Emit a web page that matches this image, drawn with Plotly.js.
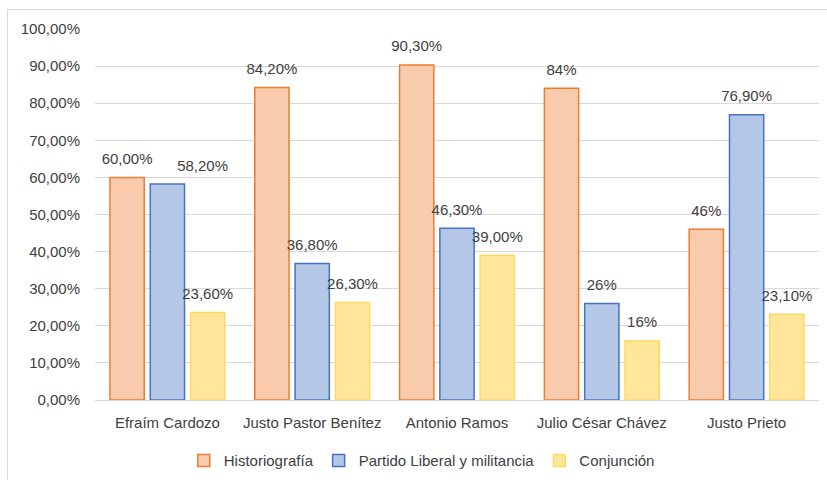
<!DOCTYPE html>
<html>
<head>
<meta charset="utf-8">
<script src="https://cdn.plot.ly/plotly-3.0.1.min.js"></script>
<style>
html,body{margin:0;padding:0;background:#fff;}
#frame{position:absolute;left:7px;top:9px;width:830px;height:480px;border-left:1px solid #d9d9d9;border-top:1px solid #d9d9d9;}
#chart{position:absolute;left:0;top:0;width:827px;height:480px;}
</style>
</head>
<body>
<div id="frame"></div>
<div id="chart"></div>
<script>
const categories = ["Efraím Cardozo", "Justo Pastor Benítez", "Antonio Ramos", "Julio César Chávez", "Justo Prieto"];
const seriesNames = ["Historiografía", "Partido Liberal y militancia", "Conjunción"];
const historiografia = [0.600, 0.842, 0.903, 0.84, 0.46];
const partidoLiberal = [0.582, 0.368, 0.463, 0.26, 0.769];
const conjuncion = [0.236, 0.263, 0.390, 0.16, 0.231];
const historiografiaLabels = ["60,00%", "84,20%", "90,30%", "84%", "46%"];
const partidoLiberalLabels = ["58,20%", "36,80%", "46,30%", "26%", "76,90%"];
const conjuncionLabels = ["23,60%", "26,30%", "39,00%", "16%", "23,10%"];
const yTickValues = [0, 0.1, 0.2, 0.3, 0.4, 0.5, 0.6, 0.7, 0.8, 0.9, 1.0];

const font = {family: "Liberation Sans, Arial, sans-serif", size: 15, color: "#404040"};
const series = [
  {name: seriesNames[0], y: historiografia, labels: historiografiaLabels, fill: "#F8CBAD", line: "#ED7D31",
   pos: ["top center", "top center", "top center", "top center", "top center"]},
  {name: seriesNames[1], y: partidoLiberal, labels: partidoLiberalLabels, fill: "#B4C7E7", line: "#4472C4",
   pos: ["top right", "top center", "top center", "top center", "top center"]},
  {name: seriesNames[2], y: conjuncion, labels: conjuncionLabels, fill: "#FFE699", line: "#FFD966",
   pos: ["top center", "top center", "top center", "top center", "top center"]}
];
const data = [];
series.forEach((s, i) => {
  data.push({
    type: "bar", name: s.name, x: categories, y: s.y, offsetgroup: String(i + 1),
    marker: {color: s.fill, line: {color: s.line, width: 1.5}},
    hoverinfo: "none"
  });
});
series.forEach((s, i) => {
  data.push({
    type: "scatter", mode: "markers+text", x: categories, y: s.y, offsetgroup: String(i + 1),
    text: s.labels, textposition: s.pos, textfont: font,
    marker: {size: 14, color: "rgba(0,0,0,0)", line: {width: 0}}, cliponaxis: false,
    showlegend: false, hoverinfo: "none"
  });
});
const layout = {
  width: 827, height: 480,
  margin: {l: 95, r: 8, t: 29, b: 80},
  paper_bgcolor: "rgba(0,0,0,0)", plot_bgcolor: "rgba(0,0,0,0)",
  separators: ",.",
  font: font,
  barmode: "group", bargap: 0.165, bargroupgap: 0.15,
  scattermode: "group", scattergap: 0.165,
  showlegend: true,
  legend: {orientation: "h", xref: "container", x: 0.51, xanchor: "center", yref: "container", y: 0.04, yanchor: "middle",
           font: font, itemwidth: 30, traceorder: "normal"},
  xaxis: {showgrid: false, showline: true, linecolor: "#d9d9d9", linewidth: 1, automargin: false,
          ticks: "", tickfont: font, ticklabelstandoff: 9, fixedrange: true},
  yaxis: {range: [0, 1.0], tickvals: yTickValues, tickformat: ".2%", automargin: false,
          showgrid: true, gridcolor: "#d9d9d9", gridwidth: 1, zeroline: false,
          showline: false, ticks: "", tickfont: font, ticklabelstandoff: 14, fixedrange: true}
};
Plotly.newPlot("chart", data, layout, {displayModeBar: false, staticPlot: true});
</script>
</body>
</html>
